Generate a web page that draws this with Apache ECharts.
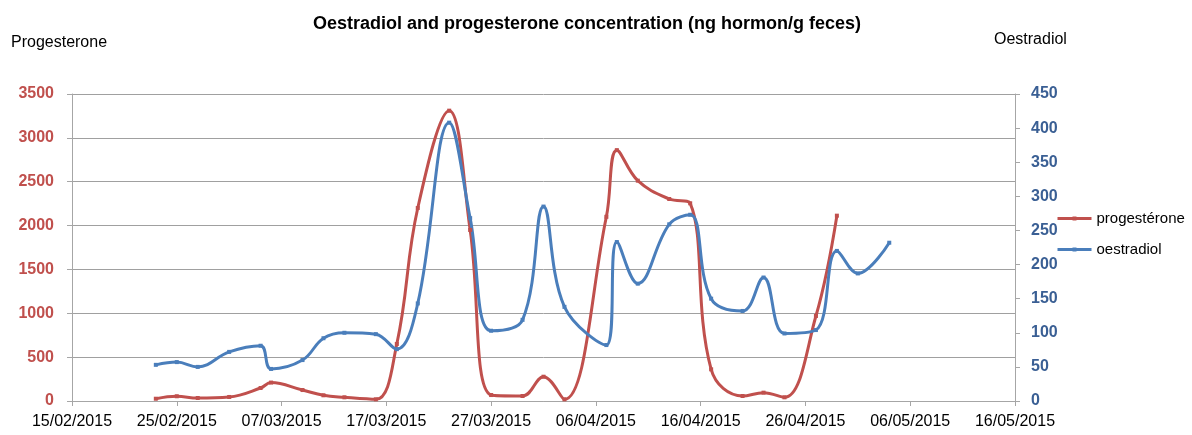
<!DOCTYPE html>
<html>
<head>
<meta charset="utf-8">
<script src="https://cdn.jsdelivr.net/npm/echarts@6/dist/echarts.min.js"></script>
<style>
html,body{margin:0;padding:0;background:#fff;}
#chart{width:1192px;height:435px;}
</style>
</head>
<body>
<div id="chart"></div>
<script>
// sampling dates (dd/mm/yyyy)
var dates = ['23/02/2015','25/02/2015','27/02/2015','02/03/2015','05/03/2015','06/03/2015','09/03/2015',
    '11/03/2015','13/03/2015','16/03/2015','18/03/2015','20/03/2015','23/03/2015','25/03/2015','27/03/2015',
    '30/03/2015','01/04/2015','03/04/2015','07/04/2015','08/04/2015','10/04/2015','13/04/2015','15/04/2015',
    '17/04/2015','20/04/2015','22/04/2015','24/04/2015','27/04/2015','29/04/2015','01/05/2015','04/05/2015'];
var progesterone = [26, 54, 34, 46, 148, 210, 125, 65, 42, 19, 650, 2200, 3310, 1950, 68, 57, 277, 19,
    2100, 2860, 2512, 2303, 2254, 361, 57, 95, 42, 969, 2113, null, null];
var oestradiol = [53, 57, 50, 72, 81, 47, 60, 92, 100, 98, 76, 143, 408, 268, 103, 119, 285, 138,
    82, 233, 172, 259, 273, 150, 132, 181, 99, 104, 220, 187, 232];
var startDate = '15/02/2015';

function toDay(s) {
    var p = s.split('/');
    var a = Date.UTC(+p[2], +p[1] - 1, +p[0]);
    var q = startDate.split('/');
    var b = Date.UTC(+q[2], +q[1] - 1, +q[0]);
    return Math.round((a - b) / 86400000);
}
function dayLabel(d) {
    var q = startDate.split('/');
    var t = new Date(Date.UTC(+q[2], +q[1] - 1, +q[0]) + d * 86400000);
    var dd = t.getUTCDate(), mm = t.getUTCMonth() + 1;
    if (dd < 10) dd = '0' + dd;
    if (mm < 10) mm = '0' + mm;
    return dd + '/' + mm + '/' + t.getUTCFullYear();
}

var progData = [], oestData = [];
for (var i = 0; i < dates.length; i++) {
    var d = toDay(dates[i]);
    if (progesterone[i] != null) progData.push([d, progesterone[i]]);
    if (oestradiol[i] != null) oestData.push([d, oestradiol[i]]);
}

var font = '"Liberation Sans", Arial, sans-serif';
var axisGray = '#a6a6a6';

var option = {
    animation: false,
    title: {
        text: 'Oestradiol and progesterone concentration (ng hormon/g feces)',
        left: 582, top: 10, textAlign: 'center',
        textStyle: {fontFamily: font, fontSize: 18, fontWeight: 'bold', color: '#000'}
    },
    legend: {
        orient: 'vertical',
        left: 1051, top: 206,
        itemWidth: 34, itemHeight: 5, itemGap: 16,
        lineStyle: {width: 3},
        textStyle: {fontFamily: font, fontSize: 15, color: '#000'},
        data: ['progestérone', 'oestradiol']
    },
    grid: {left: 72, right: 177, top: 94, bottom: 34, containLabel: false},
    graphic: [
        {type: 'text', left: 11, top: 35, style: {text: 'Progesterone', font: '16px ' + font, fill: '#000'}},
        {type: 'text', left: 994, top: 32, style: {text: 'Oestradiol', font: '16px ' + font, fill: '#000'}}
    ],
    xAxis: {
        type: 'value', min: 0, max: 90, interval: 10,
        axisLine: {lineStyle: {color: axisGray}},
        axisTick: {show: true, length: 5, lineStyle: {color: axisGray}},
        splitLine: {show: false},
        axisLabel: {
            formatter: function (v) { return dayLabel(v); },
            fontFamily: font, fontSize: 16, color: '#000', margin: 13,
            showMinLabel: true, showMaxLabel: true
        }
    },
    yAxis: [
        {
            type: 'value', min: 0, max: 3500, interval: 500, position: 'left',
            axisLine: {show: true, lineStyle: {color: axisGray}},
            axisTick: {show: true, length: 5, lineStyle: {color: axisGray}},
            splitLine: {lineStyle: {color: '#a0a0a0', width: 1}},
            axisLabel: {
                formatter: function (v) { return String(v); },
                fontFamily: font, fontSize: 16, fontWeight: 'bold', color: '#c0504d', margin: 18
            }
        },
        {
            type: 'value', min: 0, max: 450, interval: 50, position: 'right',
            axisLine: {show: true, lineStyle: {color: axisGray}},
            axisTick: {show: true, length: 5, lineStyle: {color: axisGray}},
            splitLine: {show: false},
            axisLabel: {
                formatter: function (v) { return String(v); },
                fontFamily: font, fontSize: 16, fontWeight: 'bold', color: '#3a5f94', margin: 16
            }
        }
    ],
    series: [
        {
            name: 'progestérone', type: 'line', yAxisIndex: 0,
            data: progData, smooth: 0.4,
            symbol: 'rect', symbolSize: 4, showSymbol: true,
            lineStyle: {color: '#c0504d', width: 3},
            itemStyle: {color: '#c0504d'}
        },
        {
            name: 'oestradiol', type: 'line', yAxisIndex: 1,
            data: oestData, smooth: 0.4,
            symbol: 'rect', symbolSize: 4, showSymbol: true,
            lineStyle: {color: '#4a7ebb', width: 3},
            itemStyle: {color: '#4a7ebb'}
        }
    ]
};

var chart = echarts.init(document.getElementById('chart'));
chart.setOption(option);
</script>
</body>
</html>
